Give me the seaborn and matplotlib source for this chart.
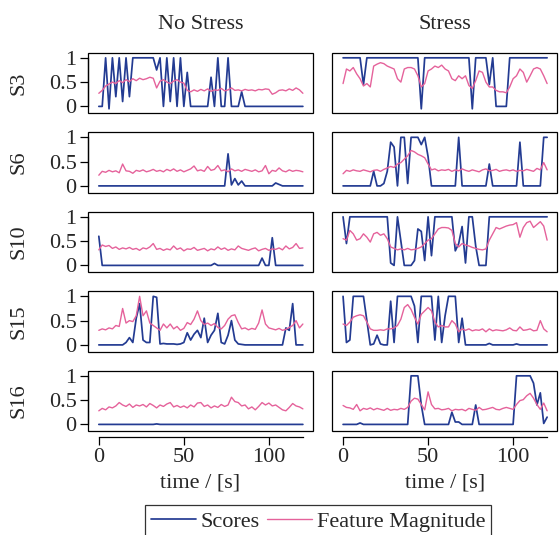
#!/usr/bin/env python3
import numpy as np
import pandas as pd
import matplotlib
matplotlib.use("Agg")
import matplotlib.pyplot as plt
from matplotlib.lines import Line2D
import seaborn as sns

# Scores / feature magnitude per subject, sampled every 2 s (t = 0..120)
subjects = ["S3", "S6", "S10", "S15", "S16"]
conditions = ["No Stress", "Stress"]
x_ticks = [0, 50, 100]
y_ticks = [0, 0.5, 1]

s3_ns_score = [0, 0, 1, -0.05, 1, 0.2, 1, 0.1, 1, 0.2,
               1, 1, 1, 1, 1, 1, 1, 0.75, 1, 0,
               1, 0.1, 1, 0, 1, 0, 0.7, 0, 0, 0,
               0, 0, 0, 0.6, 0, 1, 0, 0, 1, 0,
               0, 0, 0.3, 0, 0, 0, 0, 0, 0, 0,
               0, 0, 0, 0, 0, 0, 0, 0, 0, 0,
               0]
s3_ns_feat = [0.27, 0.33, 0.42, 0.46, 0.50, 0.47, 0.53, 0.49, 0.55, 0.51,
              0.57, 0.53, 0.58, 0.55, 0.57, 0.60, 0.58, 0.38, 0.52, 0.55,
              0.50, 0.47, 0.52, 0.55, 0.50, 0.48, 0.33, 0.30, 0.34, 0.31,
              0.35, 0.32, 0.36, 0.31, 0.34, 0.33, 0.37, 0.32, 0.34, 0.38,
              0.33, 0.34, 0.32, 0.35, 0.33, 0.34, 0.32, 0.35, 0.34, 0.36,
              0.35, 0.25, 0.28, 0.33, 0.34, 0.32, 0.36, 0.33, 0.38, 0.34,
              0.27]
s3_s_score = [1, 1, 1, 1, 1, 1, 0.45, 1, 1, 1,
              1, 1, 1, 1, 1, 1, 1, 1, 1, 1,
              1, 1, 1, -0.05, 1, 1, 1, 1, 1, 1,
              1, 1, 1, 1, 1, 1, 1, 1, -0.05, 1,
              1, 1, 1, 0.45, 1, 0, 0, 0, 0, 1,
              1, 1, 1, 1, 1, 1, 1, 1, 1, 1,
              1]
s3_s_feat = [0.47, 0.77, 0.73, 0.80, 0.67, 0.57, 0.42, 0.47, 0.40, 0.83,
             0.87, 0.90, 0.88, 0.83, 0.80, 0.77, 0.57, 0.50, 0.77, 0.80,
             0.80, 0.77, 0.63, 0.40, 0.47, 0.73, 0.77, 0.83, 0.80, 0.85,
             0.77, 0.73, 0.57, 0.53, 0.63, 0.57, 0.63, 0.43, 0.37, 0.53,
             0.73, 0.70, 0.50, 0.40, 0.40, 0.33, 0.30, 0.30, 0.28, 0.40,
             0.57, 0.63, 0.77, 0.70, 0.50, 0.63, 0.77, 0.80, 0.77, 0.63,
             0.47]

s6_ns_score = [0, 0, 0, 0, 0, 0, 0, 0, 0, 0,
               0, 0, 0, 0, 0, 0, 0, 0, 0, 0,
               0, 0, 0, 0, 0, 0, 0, 0, 0, 0,
               0, 0, 0, 0, 0, 0, 0, 0, 0.66, 0.02,
               0.15, 0.02, 0.1, 0, 0, 0, 0, 0, 0, 0,
               0, 0, 0.06, 0.03, 0, 0, 0, 0, 0, 0,
               0]
s6_ns_feat = [0.22, 0.30, 0.28, 0.32, 0.29, 0.31, 0.27, 0.45, 0.31, 0.30,
              0.26, 0.32, 0.30, 0.33, 0.29, 0.31, 0.34, 0.30, 0.32, 0.29,
              0.34, 0.31, 0.35, 0.30, 0.33, 0.29, 0.32, 0.35, 0.41, 0.31,
              0.33, 0.30, 0.40, 0.32, 0.34, 0.42, 0.31, 0.33, 0.29, 0.35,
              0.31, 0.33, 0.30, 0.34, 0.32, 0.30, 0.33, 0.29, 0.31, 0.42,
              0.25, 0.32, 0.30, 0.37, 0.31, 0.29, 0.33, 0.30, 0.32, 0.31,
              0.29]
s6_s_score = [0, 0, 0, 0, 0, 0, 0, 0, 0, 0.3,
              0, 0, 0.05, 0.3, 0.9, 0.8, 0, 1, 1, 0.05,
              1, 1, 1, 0.85, 1, 0.6, 0, 0, 0, 0,
              0, 0, 0, 0, 1.0, 0, 0, 0, 0, 0,
              0, 0, 0, 0.45, 0, 0, 0, 0, 0, 0,
              0, 0, 0.9, 0, 0, 0, 0, 0, 0, 1,
              1]
s6_s_feat = [0.25, 0.32, 0.30, 0.33, 0.31, 0.30, 0.33, 0.31, 0.29, 0.32,
             0.33, 0.30, 0.34, 0.37, 0.40, 0.38, 0.45, 0.48, 0.55, 0.62,
             0.73, 0.70, 0.65, 0.62, 0.58, 0.45, 0.33, 0.35, 0.31, 0.33,
             0.32, 0.34, 0.30, 0.33, 0.31, 0.35, 0.32, 0.30, 0.33, 0.31,
             0.29, 0.33, 0.35, 0.31, 0.32, 0.34, 0.30, 0.32, 0.33, 0.31,
             0.33, 0.30, 0.32, 0.31, 0.34, 0.32, 0.30, 0.36, 0.33, 0.48,
             0.33]

s10_ns_score = [0.6, 0, 0, 0, 0, 0, 0, 0, 0, 0,
                0, 0, 0, 0, 0, 0, 0, 0, 0, 0,
                0, 0, 0, 0, 0, 0, 0, 0, 0, 0,
                0, 0, 0, 0, 0.04, 0, 0, 0, 0, 0,
                0, 0, 0, 0, 0, 0, 0, 0, 0.15, 0,
                0, 0.57, 0, 0, 0, 0, 0, 0, 0, 0,
                0]
s10_ns_feat = [0.32, 0.42, 0.39, 0.41, 0.35, 0.38, 0.33, 0.36, 0.34, 0.37,
               0.33, 0.35, 0.31, 0.36, 0.34, 0.38, 0.45, 0.33, 0.35, 0.31,
               0.34, 0.32, 0.40, 0.33, 0.36, 0.30, 0.34, 0.33, 0.37, 0.31,
               0.33, 0.35, 0.30, 0.34, 0.32, 0.38, 0.33, 0.36, 0.31, 0.34,
               0.32, 0.40, 0.35, 0.33, 0.31, 0.34, 0.36, 0.30, 0.33, 0.35,
               0.31, 0.34, 0.33, 0.36, 0.32, 0.40, 0.34, 0.37, 0.45, 0.35,
               0.36]
s10_s_score = [1, 0.45, 1, 1, 1, 1, 1, 1, 1, 1,
               1, 1, 1, 1, 0.05, 0, 1, 0.5, 0, 0,
               0, 0.1, 0.75, 0.7, 0.1, 1, 0.2, 1, 1, 1,
               1, 1, 1, 0.3, 0.45, 0.8, 0.05, 1, 1, 0.4,
               0, 0, 0, 1, 1, 1, 1, 1, 1, 1,
               1, 1, 1, 1, 1, 1, 1, 1, 1, 1,
               1]
s10_s_feat = [0.55, 0.52, 0.72, 0.65, 0.52, 0.55, 0.65, 0.58, 0.48, 0.65,
              0.68, 0.62, 0.65, 0.55, 0.38, 0.35, 0.32, 0.34, 0.32, 0.35,
              0.32, 0.33, 0.35, 0.38, 0.45, 0.52, 0.55, 0.65, 0.75, 0.78,
              0.78, 0.77, 0.72, 0.45, 0.38, 0.45, 0.42, 0.40, 0.37, 0.35,
              0.33, 0.32, 0.34, 0.52, 0.65, 0.78, 0.75, 0.78, 0.81, 0.83,
              0.84, 0.88, 0.58, 0.78, 0.88, 0.91, 0.78, 0.84, 0.90, 0.81,
              0.52]

s15_ns_score = [0, 0, 0, 0, 0, 0, 0, 0, 0.05, 0.15,
                0.05, 0.55, 0.85, 0.1, 0.05, 0.05, 1.0, 0.98, 0.02, 0.03,
                0.02, 0.02, 0.02, 0.01, 0.02, 0.05, 0.25, 0.1, 0.22, 0.3,
                0.15, 0.55, 0.05, 0.2, 0.3, 0.65, 0.05, 0.02, 0.2, 0.5,
                0.1, 0.02, 0.01, 0, 0, 0, 0, 0, 0, 0,
                0, 0, 0, 0, 0, 0.35, 0.3, 0.85, 0, 0,
                0]
s15_ns_feat = [0.30, 0.33, 0.31, 0.35, 0.33, 0.40, 0.38, 0.75, 0.45, 0.50,
               0.48, 0.60, 1.00, 0.60, 0.70, 0.45, 0.40, 0.35, 0.30, 0.43,
               0.35, 0.43, 0.33, 0.38, 0.30, 0.34, 0.46, 0.42, 0.53, 0.70,
               0.50, 0.42, 0.45, 0.40, 0.44, 0.36, 0.33, 0.40, 0.53, 0.60,
               0.62, 0.46, 0.33, 0.35, 0.31, 0.34, 0.32, 0.45, 0.72, 0.43,
               0.35, 0.33, 0.31, 0.34, 0.30, 0.32, 0.36, 0.40, 0.50, 0.35,
               0.43]
s15_s_score = [1, 0.05, 0.1, 1, 1, 1, 1, 0.5, 0.0, 0.02,
               0.2, 0.02, 0, 0, 0.9, 0.05, 1, 1, 1, 1,
               1, 0.8, 0.05, 1, 1, 1, 1, 0.1, 1.0, 0.05,
               0.6, 1, 1, 1, 0.05, 0.55, 0, 0, 0, 0,
               0, 0, 0, 0.03, 0, 0, 0, 0, 0, 0,
               0, 0.02, 0, 0, 0, 0, 0, 0, 0, 0,
               0]
s15_s_feat = [0.43, 0.40, 0.47, 0.57, 0.60, 0.62, 0.60, 0.47, 0.33, 0.30,
              0.30, 0.31, 0.30, 0.33, 0.33, 0.35, 0.40, 0.53, 0.77, 0.83,
              0.73, 0.57, 0.43, 0.63, 0.70, 0.77, 0.70, 0.47, 0.37, 0.40,
              0.37, 0.37, 0.50, 0.43, 0.27, 0.33, 0.30, 0.33, 0.29, 0.31,
              0.30, 0.33, 0.27, 0.33, 0.29, 0.31, 0.30, 0.29, 0.31, 0.35,
              0.30, 0.29, 0.37, 0.30, 0.31, 0.33, 0.29, 0.30, 0.50, 0.33,
              0.27]

s16_ns_score = [0, 0, 0, 0, 0, 0, 0, 0, 0, 0,
                0, 0, 0, 0, 0, 0, 0, 0.01, 0, 0,
                0, 0, 0, 0, 0, 0, 0, 0, 0, 0,
                0, 0, 0, 0, 0, 0, 0, 0, 0, 0,
                0, 0, 0, 0, 0, 0, 0, 0, 0, 0,
                0, 0, 0, 0, 0, 0, 0, 0, 0, 0,
                0]
s16_ns_feat = [0.28, 0.33, 0.30, 0.36, 0.34, 0.38, 0.45, 0.40, 0.37, 0.42,
               0.35, 0.40, 0.38, 0.41, 0.36, 0.43, 0.39, 0.34, 0.40, 0.37,
               0.42, 0.45, 0.36, 0.39, 0.35, 0.38, 0.34, 0.40, 0.36, 0.44,
               0.45, 0.37, 0.40, 0.34, 0.38, 0.35, 0.41, 0.37, 0.40, 0.56,
               0.47, 0.45, 0.38, 0.40, 0.32, 0.36, 0.30, 0.37, 0.45, 0.40,
               0.44, 0.38, 0.40, 0.35, 0.30, 0.28, 0.35, 0.43, 0.38, 0.36,
               0.32]
s16_s_score = [0, 0, 0, 0, 0, 0.03, 0, 0, 0, 0,
               0, 0, 0, 0, 0, 0, 0, 0, 0, 0,
               1, 1, 1, 0.4, 0, 0, 0, 0, 0, 0,
               0, 0, 0.25, 0.05, 0.05, 0, 0, 0, 0, 0.4,
               0, 0, 0, 0, 0, 0, 0, 0, 0, 0,
               0, 1, 1, 1, 1, 1, 0.85, 0.4, 0.65, 0.02,
               0.15]
s16_s_feat = [0.39, 0.35, 0.34, 0.31, 0.41, 0.28, 0.33, 0.31, 0.34, 0.30,
              0.33, 0.31, 0.29, 0.33, 0.29, 0.31, 0.30, 0.33, 0.31, 0.35,
              0.48, 0.54, 0.52, 0.41, 0.30, 0.67, 0.41, 0.32, 0.33, 0.30,
              0.31, 0.33, 0.28, 0.31, 0.30, 0.31, 0.28, 0.33, 0.31, 0.29,
              0.35, 0.30, 0.31, 0.33, 0.35, 0.31, 0.30, 0.33, 0.35, 0.33,
              0.31, 0.41, 0.49, 0.51, 0.59, 0.64, 0.54, 0.41, 0.31, 0.44,
              0.28]

panels = {
    ("S3", "No Stress"): (s3_ns_score, s3_ns_feat),
    ("S3", "Stress"): (s3_s_score, s3_s_feat),
    ("S6", "No Stress"): (s6_ns_score, s6_ns_feat),
    ("S6", "Stress"): (s6_s_score, s6_s_feat),
    ("S10", "No Stress"): (s10_ns_score, s10_ns_feat),
    ("S10", "Stress"): (s10_s_score, s10_s_feat),
    ("S15", "No Stress"): (s15_ns_score, s15_ns_feat),
    ("S15", "Stress"): (s15_s_score, s15_s_feat),
    ("S16", "No Stress"): (s16_ns_score, s16_ns_feat),
    ("S16", "Stress"): (s16_s_score, s16_s_feat),
}

BLUE = "#233b92"
PINK = "#e5629b"
FS = 16

sns.set_theme(style="white")
plt.rcParams["font.family"] = ["Liberation Serif", "DejaVu Serif"]
plt.rcParams["font.size"] = FS

fig, axes = plt.subplots(5, 2, figsize=(5.59, 5.35), dpi=100, sharex=True)
fig.subplots_adjust(left=0.157, right=0.997, top=0.901, bottom=0.194,
                    hspace=0.32, wspace=0.084)

for r, subj in enumerate(subjects):
    for c, cond in enumerate(conditions):
        ax = axes[r, c]
        score, feat = panels[(subj, cond)]
        df = pd.concat([
            pd.DataFrame({"time": np.linspace(0, 120, len(score)),
                          "value": score, "series": "Scores"}),
            pd.DataFrame({"time": np.linspace(0, 120, len(feat)),
                          "value": feat, "series": "Feature Magnitude"}),
        ])
        sns.lineplot(data=df, x="time", y="value", hue="series",
                     hue_order=["Scores", "Feature Magnitude"],
                     palette=[BLUE, PINK], size="series",
                     sizes={"Scores": 1.25, "Feature Magnitude": 1.0},
                     ax=ax, legend=False)

        ax.set_xlim(-6.5, 126)
        ax.set_ylim(-0.14, 1.1)
        ax.set_xlabel("")
        ax.set_ylabel("")

        # box around panel, separate from the axis lines
        for s in ax.spines.values():
            s.set_visible(False)
        ax.add_patch(plt.Rectangle((0, 0), 1, 1, transform=ax.transAxes,
                                   fill=False, ec="black", lw=0.9,
                                   clip_on=False, zorder=5))
        ax.tick_params(axis="both", direction="out", length=6, width=0.9,
                       color="black", labelsize=FS, pad=2)

        if c == 0:
            ax.set_yticks(y_ticks)
            ax.set_yticklabels(["0", "0.5", "1"])
            ax.spines["left"].set_visible(True)
            ax.spines["left"].set_bounds(0, 1)
            ax.spines["left"].set_color("black")
            ax.spines["left"].set_linewidth(0.9)
            ax.set_ylabel(subj, fontsize=FS)
            ax.yaxis.set_label_coords(-0.265, 0.5)
            ax.tick_params(axis="y", left=True)
        else:
            ax.set_yticks([])

        if r == len(subjects) - 1:
            ax.set_xticks(x_ticks)
            ax.spines["bottom"].set_visible(True)
            ax.spines["bottom"].set_position(("outward", 4))
            ax.spines["bottom"].set_bounds(0, 120)
            ax.spines["bottom"].set_color("black")
            ax.spines["bottom"].set_linewidth(0.9)
            ax.tick_params(axis="x", bottom=True, length=6, pad=2)
            ax.set_xlabel("time / [s]", fontsize=FS, labelpad=5)
        else:
            ax.tick_params(axis="x", bottom=False)

        if r == 0:
            ax.set_title(cond, fontsize=FS, pad=17)

handles = [Line2D([], [], color=BLUE, lw=1.25), Line2D([], [], color=PINK, lw=1.0)]
leg = fig.legend(handles, ["Scores", "Feature Magnitude"], loc="lower center",
                 bbox_to_anchor=(0.569, -0.004), ncol=2, frameon=True,
                 fancybox=False, edgecolor="black", fontsize=FS,
                 handlelength=2.05, handletextpad=0.2, columnspacing=0.3,
                 borderpad=0.25, borderaxespad=0.0)
leg.get_frame().set_linewidth(0.9)

fig.savefig("out.png", dpi=100)
